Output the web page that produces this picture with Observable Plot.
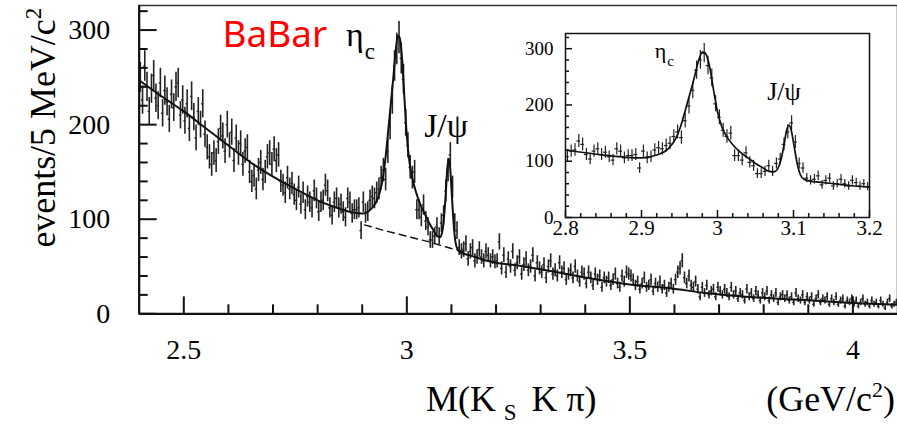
<!DOCTYPE html>
<html><head><meta charset="utf-8">
<script src="https://cdn.jsdelivr.net/npm/d3@7"></script>
<script src="https://cdn.jsdelivr.net/npm/@observablehq/plot@0.6"></script>
<style>
html,body{margin:0;padding:0;background:#fff;overflow:hidden;}
#wrap{position:relative;width:897px;height:429px;overflow:hidden;}
#main{position:absolute;left:0;top:0;}
#inset{position:absolute;left:510px;top:20px;}
svg text{font-family:"Liberation Serif","Times New Roman",serif;}
</style></head>
<body><div id="wrap"><div id="main"></div><div id="inset"></div></div>
<script>
// ---- data: events per 5 MeV bin, M(KsKpi) from 2.40 to 4.10 GeV ----
const binWidth = 0.005;
const firstEdge = 2.4;
const countsLow = [ // 2.400 - 2.800
 250,226,262,240,214,238,252,228,220,244,
 212,236,224,206,232,218,240,244,210,226,
 204,222,196,230,208,186,214,200,222,190,
 176,166,158,170,162,182,196,188,172,200,
 178,192,162,186,170,180,158,172,176,150,
 140,146,132,152,160,142,150,166,170,158,
 174,162,168,140,136,128,144,132,138,126,
 120,134,116,128,110,124,118,112,130,122];
const countsPeak = [ // 2.800 - 3.200
 108,118,120,136,130,112,104,118,122,112,
 116,108,102,122,118,106,110,110,112,88,
 118,106,108,120,124,122,128,132,144,152,
 142,172,198,226,262,280,292,270,248,202,
 178,155,144,150,110,110,102,115,98,92,
 78,78,82,92,82,96,104,130,152,168,
 134,96,88,70,66,68,74,58,66,70,
 56,60,68,60,56,66,62,56,60,55];
const countsHigh = [ // 3.200 - 4.100
 56,76,48,62,44,58,50,66,46,54,
 60,42,52,58,46,50,62,40,54,48,
 44,52,38,50,56,42,46,40,54,44,
 48,36,42,46,38,50,40,34,44,42,
 32,44,38,30,42,36,40,28,38,34,
 38,30,36,42,32,28,40,34,44,42,
 40,36,30,34,26,32,38,28,30,36,
 24,32,28,34,26,30,22,28,32,26,
 36,44,48,56,38,32,40,30,28,34,
 26,18,28,22,30,20,24,26,18,28,
 24,20,26,22,18,28,20,24,16,22,
 20,14,26,18,22,16,24,20,14,22,
 18,24,14,20,16,22,12,18,20,16,
 20,14,18,12,22,16,14,20,12,18,
 14,18,10,16,20,12,16,14,18,10,
 16,12,18,10,14,16,8,14,12,16,
 10,14,8,12,16,10,12,8,14,10,
 12,8,14,10,6,12,16,8,10,12];

// ---- fit curves ----
const fitMass = [2.40,2.45,2.50,2.55,2.60,2.65,2.70,2.75,2.80,2.85,
 2.88,2.90,2.92,2.935,2.945,2.951,2.96,2.969,2.975,2.98,
 2.984,2.989,2.995,3.0,3.006,3.013,3.021,3.03,3.04,3.05,
 3.06,3.068,3.074,3.079,3.083,3.087,3.091,3.094,3.097,3.101,
 3.105,3.109,3.114,3.12,3.14,3.16,3.18,3.2,3.25,3.3,
 3.37,3.43,3.5,3.59,3.67,3.76,3.85,3.92,4.0,4.1];
const fitTotal = [247,230,214,196,178,160,145,132,120,111,
 107,106,111,122,140,160,202,246,278,294,
 292,272,225,188,160,142,128,116,106,96,
 88,82,81,86,100,125,155,164,155,125,
 95,76,68,65,62,59,56,54,51,47,
 41,36,31,27,22,18,15.5,13.7,11.5,9.5];
const bkgMass = [2.905,2.95,3.00,3.05,3.10,3.133];
const bkgValue = [94,88,82,76,69,65];

// ---- axes ----
const xMajorTicks = [2.5,3,3.5,4];
const xMajorLabels = ["2.5","3","3.5","4"];
const xMinorTicks = [2.6,2.7,2.8,2.9,3.1,3.2,3.3,3.4,3.6,3.7,3.8,3.9];
const yMajorTicks = [0,100,200,300];
const yMajorLabels = ["0","100","200","300"];
const yMinorTicks = [20,40,60,80,120,140,160,180,220,240,260,280,320];
const insetXMajor = [2.8,2.9,3.0,3.1,3.2];
const insetXLabels = ["2.8","2.9","3","3.1","3.2"];
const insetXMinor = [2.82,2.84,2.86,2.88,2.92,2.94,2.96,2.98,3.02,3.04,3.06,3.08,3.12,3.14,3.16,3.18];

// ---- texts ----
const yTitle = "events/5 MeV/c";
const xTitleParts = ["M(K", "S", "K π)"];
const unitText = "(GeV/c";
const experiment = "BaBar";
const etaText = ["η", "c"];
const jpsiText = "J/ψ";

// ---- tables ----
const counts = countsLow.concat(countsPeak, countsHigh);
const bins = counts.map((n, i) => ({
  lo: firstEdge + i * binWidth,
  hi: firstEdge + (i + 1) * binWidth,
  mid: firstEdge + (i + 0.5) * binWidth,
  n
}));
const fit = fitMass.map((m, i) => ({m, v: fitTotal[i]}));
const bkg = bkgMass.map((m, i) => ({m, v: bkgValue[i]}));
const insetBins = bins.filter(d => d.mid > 2.8 && d.mid < 3.2);
const insetFit = fit.filter(d => d.m >= 2.8 && d.m <= 3.2);

const serif = "Liberation Serif";
const ink = "#111";

// frame sizes (pixels) used for inward tick lengths
const mainW = 760, mainH = 309, insW = 304, insH = 184;

const main = Plot.plot({
  width: 899, height: 429,
  marginLeft: 139, marginRight: 0, marginTop: 5, marginBottom: 115,
  x: {domain: [2.4, 4.1]},
  y: {domain: [0, 326]},
  style: {fontFamily: serif, color: "#000", background: "transparent", overflow: "visible"},
  marks: [
    Plot.ruleX(bins, {x: "mid", y1: d => Math.max(0, d.n - Math.sqrt(d.n)), y2: d => d.n + Math.sqrt(d.n), stroke: "#222", strokeWidth: 1.6}),
    Plot.ruleY(bins, {y: "n", x1: "lo", x2: "hi", stroke: "#222", strokeWidth: 1.4}),
    Plot.line(bkg, {x: "m", y: "v", stroke: ink, strokeWidth: 1.4, strokeDasharray: "7,5"}),
    Plot.line(fit, {x: "m", y: "v", curve: "monotone-x", stroke: ink, strokeWidth: 2}),
    Plot.ruleX(xMinorTicks, {x: d => d, insetTop: mainH - 9, stroke: ink, strokeWidth: 2}),
    Plot.ruleX(xMajorTicks, {x: d => d, insetTop: mainH - 17, stroke: ink, strokeWidth: 2}),
    Plot.ruleY(yMinorTicks, {y: d => d, insetRight: mainW - 9, stroke: ink, strokeWidth: 2}),
    Plot.ruleY(yMajorTicks, {y: d => d, insetRight: mainW - 18, stroke: ink, strokeWidth: 2}),
    Plot.axisX(xMajorTicks, {tickSize: 0, tickPadding: 25, fontSize: 28, fontFamily: serif, fill: "#000", tickFormat: (d, i) => xMajorLabels[i], label: null}),
    Plot.axisY(yMajorTicks, {tickSize: 0, tickPadding: 29, fontSize: 28, fontFamily: serif, fill: "#000", tickFormat: (d, i) => yMajorLabels[i], label: null}),
    Plot.frame({stroke: "#333", strokeWidth: 1.5}),
    Plot.ruleY([0], {stroke: ink, strokeWidth: 2.2}),
    Plot.ruleX([2.4], {stroke: ink, strokeWidth: 2.2})
  ]
});
document.getElementById("main").appendChild(main);

const inset = Plot.plot({
  width: 380, height: 230,
  marginLeft: 55, marginRight: 21, marginTop: 13, marginBottom: 33,
  x: {domain: [2.8, 3.2]},
  y: {domain: [0, 327]},
  style: {fontFamily: serif, color: "#000", background: "transparent", overflow: "visible"},
  marks: [
    Plot.ruleX(insetBins, {x: "mid", y1: d => d.n - Math.sqrt(d.n), y2: d => d.n + Math.sqrt(d.n), stroke: "#222", strokeWidth: 1.2}),
    Plot.ruleY(insetBins, {y: "n", x1: "lo", x2: "hi", stroke: "#222", strokeWidth: 1.2}),
    Plot.line(insetFit, {x: "m", y: "v", curve: "monotone-x", stroke: ink, strokeWidth: 1.7}),
    Plot.ruleX(insetXMinor, {x: d => d, insetTop: insH - 4, stroke: ink, strokeWidth: 1.5}),
    Plot.ruleX(insetXMajor, {x: d => d, insetTop: insH - 7, stroke: ink, strokeWidth: 1.5}),
    Plot.ruleY(yMinorTicks, {y: d => d, insetRight: insW - 4, stroke: ink, strokeWidth: 1.5}),
    Plot.ruleY(yMajorTicks, {y: d => d, insetRight: insW - 7, stroke: ink, strokeWidth: 1.5}),
    Plot.axisX(insetXMajor, {tickSize: 0, tickPadding: 3, fontSize: 21, fontFamily: serif, fill: "#000", tickFormat: (d, i) => insetXLabels[i], label: null}),
    Plot.axisY(yMajorTicks, {tickSize: 0, tickPadding: 12, fontSize: 19, fontFamily: serif, fill: "#000", tickFormat: (d, i) => yMajorLabels[i], label: null}),
    Plot.frame({stroke: ink, strokeWidth: 1.5})
  ]
});
document.getElementById("inset").appendChild(inset);

// ---- annotations (placed through the plots' scales) ----
const mx = main.scale("x"), my = main.scale("y");
const ix = inset.scale("x"), iy = inset.scale("y");
const msvg = d3.select(main), isvg = d3.select(inset);

function label(svg, x, y, size) {
  return svg.append("text").attr("x", x).attr("y", y)
    .attr("text-anchor", "start").attr("font-size", size).attr("fill", "#000");
}

label(msvg, mx.apply(2.588), my.apply(282), 37)
  .style("font-family", "'Noto Sans','Open Sans',sans-serif")
  .attr("fill", "#ff0000").text(experiment);

function eta(svg, x, y, big, small, drop) {
  const t = label(svg, x, y, big);
  t.append("tspan").text(etaText[0]);
  t.append("tspan").attr("font-size", small).attr("dx", 1).attr("dy", drop).text(etaText[1]);
}
eta(msvg, mx.apply(2.865), my.apply(283), 34, 23, 13);
eta(isvg, ix.apply(2.918), iy.apply(282), 22, 15, 8);

label(msvg, mx.apply(3.040), my.apply(186), 34).text(jpsiText);
label(isvg, ix.apply(3.066), iy.apply(208), 26).text(jpsiText);

// axis titles
const yt = msvg.append("text")
  .attr("transform", "translate(55,128) rotate(-90)")
  .attr("text-anchor", "middle").attr("font-size", 36).attr("fill", "#000");
yt.append("tspan").text(yTitle);
yt.append("tspan").attr("font-size", 23).attr("dy", -14).text("2");

const xt = label(msvg, 427, 412, 36);
xt.append("tspan").text(xTitleParts[0]);
xt.append("tspan").attr("font-size", 23).attr("dx", 8).attr("dy", 9).text(xTitleParts[1]);
xt.append("tspan").attr("dx", 15).attr("dy", -9).text(xTitleParts[2]);

const ut = label(msvg, 768, 412, 36);
ut.append("tspan").text(unitText);
ut.append("tspan").attr("font-size", 22).attr("dy", -14).text("2");
ut.append("tspan").attr("dy", 14).text(")");
</script>
</body></html>
